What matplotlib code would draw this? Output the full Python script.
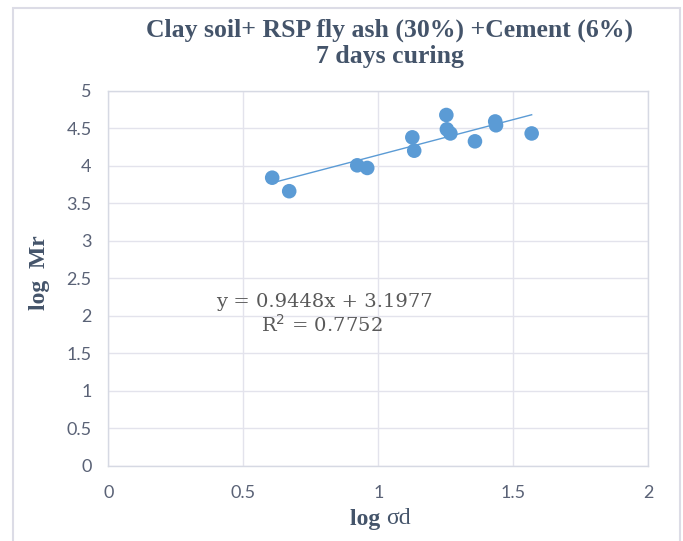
import matplotlib
matplotlib.use("Agg")
import matplotlib.pyplot as plt
from matplotlib.patches import Rectangle
import numpy as np

# Data
log_sd = [0.607, 0.670, 0.922, 0.959, 1.126, 1.133, 1.252, 1.254, 1.267, 1.358, 1.433, 1.436, 1.568]
log_mr = [3.84, 3.66, 4.005, 3.97, 4.378, 4.20, 4.676, 4.485, 4.43, 4.325, 4.59, 4.539, 4.43]
slope = 0.9448
intercept = 3.1977
r2 = 0.7752
title_lines = ["Clay soil+ RSP fly ash (30%) +Cement (6%)", "7 days curing"]
x_ticks = [0, 0.5, 1, 1.5, 2]
y_ticks = [0, 0.5, 1, 1.5, 2, 2.5, 3, 3.5, 4, 4.5, 5]

W, H = 683, 541
fig = plt.figure(figsize=(W / 100, H / 100), dpi=100)
fig.patch.set_facecolor("white")

# outer chart border
fig.patches.append(Rectangle((13 / W, -0.05), (680 - 13) / W, 1.05 - 8 / H,
                             transform=fig.transFigure, fill=False,
                             edgecolor="#dcdce6", linewidth=1.5))

ax = fig.add_axes([108.3 / W, 1 - 465.7 / H, 540 / W, 375 / H])
ax.set_xlim(0, 2)
ax.set_ylim(0, 5)
ax.set_xticks(x_ticks)
ax.set_yticks(y_ticks)
ax.set_xticklabels([f"{v:g}" for v in x_ticks])
ax.set_yticklabels([f"{v:g}" for v in y_ticks])
ax.grid(True, color="#e3e3ec", linewidth=1.0)
ax.set_axisbelow(True)
for s in ax.spines.values():
    s.set_color("#d6d9e3")
    s.set_linewidth(1.0)
ax.tick_params(length=0, labelsize=13, labelcolor="#5a6276", pad=10)
for lab in ax.get_xticklabels() + ax.get_yticklabels():
    lab.set_family("Lato")
ax.tick_params(axis="x", pad=14)
ax.tick_params(axis="y", pad=12)

ax.scatter(log_sd, log_mr, s=110, color="#5b9bd5", zorder=3, edgecolors="none")
xs = np.array([min(log_sd), max(log_sd)])
ax.plot(xs, slope * xs + intercept, color="#5b9bd5", linewidth=1.0, zorder=2)

ax.text(0.40, 2.18, f"y = {slope}x + {intercept}", fontsize=14, family="DejaVu Serif",
        color="#595959", ha="left", va="center", transform=ax.transData)
ax.text(0.79, 1.876, f"R$^2$ = {r2}", fontsize=14, family="DejaVu Serif",
        color="#595959", ha="center", va="center", transform=ax.transData)

title_color = "#44546a"
fig.text(390 / W, 1 - 30 / H, title_lines[0], fontsize=18.5, weight="bold",
         family="Liberation Serif", color=title_color, ha="center", va="center")
fig.text(390 / W, 1 - 56 / H, title_lines[1], fontsize=18.5, weight="bold",
         family="Liberation Serif", color=title_color, ha="center", va="center")

fig.text(40 / W, 1 - 273 / H, "log  Mr", fontsize=17, weight="bold",
         family="Liberation Serif", color=title_color, rotation=90,
         ha="center", va="center")

t1 = fig.text(350 / W, 1 - 519 / H, "log ", fontsize=17, weight="bold",
              family="Liberation Serif", color=title_color, ha="left", va="center")
ax.annotate("σd", xy=(1, 0), xycoords=t1, fontsize=17, family="Liberation Serif",
            color=title_color, ha="left", va="bottom", annotation_clip=False)

fig.savefig("out.png", dpi=100, facecolor="white")
